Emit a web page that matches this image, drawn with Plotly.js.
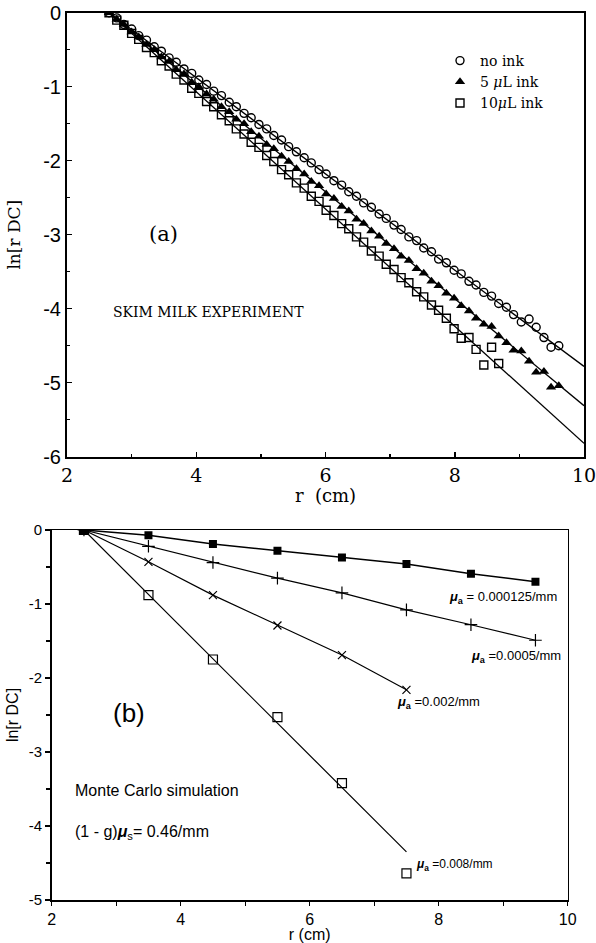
<!DOCTYPE html>
<html>
<head>
<meta charset="utf-8">
<script src="https://cdn.plot.ly/plotly-3.0.1.min.js"></script>
<style>html,body{margin:0;padding:0;background:#fff;}#chart{width:596px;height:943px;}</style>
</head>
<body>
<div id="chart"></div>
<script>
// ---------- (a) Skim milk experiment ----------
const rPos = [2.65,2.77,2.88,3.00,3.11,3.23,3.35,3.46,3.58,3.69,3.81,3.93,4.04,4.16,4.27,4.39,4.51,4.62,4.74,4.85,
  4.97,5.09,5.20,5.32,5.43,5.55,5.67,5.78,5.90,6.01,6.13,6.25,6.36,6.48,6.59,6.71,6.83,6.94,7.06,7.17,
  7.29,7.41,7.52,7.64,7.75,7.87,7.99,8.10,8.22,8.33,8.45,8.57,8.68,8.80,8.91,9.03,9.15,9.26,9.38,9.49,9.61];
const noInk = [0,-0.07,-0.16,-0.22,-0.31,-0.37,-0.46,-0.52,-0.61,-0.67,-0.76,-0.82,-0.91,-0.97,-1.06,-1.12,-1.21,-1.27,-1.36,-1.42,
  -1.51,-1.57,-1.66,-1.72,-1.81,-1.88,-1.96,-2.03,-2.12,-2.18,-2.27,-2.33,-2.42,-2.48,-2.57,-2.63,-2.72,-2.78,-2.87,-2.93,
  -3.03,-3.08,-3.18,-3.23,-3.33,-3.38,-3.48,-3.53,-3.63,-3.68,-3.78,-3.83,-3.93,-3.98,-4.08,-4.18,-4.14,-4.25,-4.39,-4.52,-4.50];
const ink5 = [0,-0.09,-0.16,-0.26,-0.33,-0.43,-0.50,-0.60,-0.66,-0.77,-0.83,-0.94,-1.00,-1.10,-1.17,-1.27,-1.34,-1.44,-1.50,-1.61,
  -1.67,-1.78,-1.84,-1.94,-2.01,-2.11,-2.18,-2.28,-2.34,-2.45,-2.51,-2.62,-2.68,-2.79,-2.85,-2.95,-3.02,-3.12,-3.19,-3.29,
  -3.35,-3.46,-3.52,-3.63,-3.69,-3.79,-3.86,-3.96,-4.03,-4.13,-4.21,-4.24,-4.37,-4.46,-4.56,-4.57,-4.71,-4.86,-4.85,-5.06,-5.04];
const ink10 = [0,-0.10,-0.17,-0.28,-0.36,-0.47,-0.54,-0.65,-0.72,-0.83,-0.91,-1.02,-1.09,-1.20,-1.27,-1.38,-1.46,-1.57,-1.64,-1.75,
  -1.82,-1.93,-2.01,-2.12,-2.19,-2.30,-2.37,-2.48,-2.55,-2.67,-2.74,-2.85,-2.92,-3.03,-3.10,-3.22,-3.29,-3.40,-3.47,-3.58,
  -3.65,-3.77,-3.84,-3.95,-4.02,-4.13,-4.27,-4.40,-4.39,-4.55,-4.76,-4.52,-4.74];
const fitR = [2.65, 10];
const noInkFit = [0, -4.78];
const ink5Fit = [0, -5.31];
const ink10Fit = [0, -5.82];
const seriesNamesA = ["no ink", "5 <i>μ</i>L ink", "10<i>μ</i>L ink"];

// ---------- (b) Monte Carlo simulation ----------
const mcR = [2.5,3.5,4.5,5.5,6.5,7.5,8.5,9.5];
const mua000125 = [0,-0.07,-0.19,-0.28,-0.37,-0.46,-0.59,-0.70];
const mua0005 = [0,-0.22,-0.44,-0.65,-0.85,-1.08,-1.28,-1.49];
const mua002 = [0,-0.43,-0.88,-1.29,-1.69,-2.16];
const mua008 = [0,-0.88,-1.75,-2.53,-3.42,-4.64];
const fit008R = [2.5, 7.5];
const fit008Y = [0, -4.35];

// tick labels
const xTickVals = [2,4,6,8,10];
const xTickText = ["2","4","6","8","10"];
const yTickValsA = [0,-1,-2,-3,-4,-5,-6];
const yTickTextA = ["0","-1","-2","-3","-4","-5","-6"];
const yTickValsB = [0,-1,-2,-3,-4,-5];
const yTickTextB = ["0","-1","-2","-3","-4","-5"];

const W = 596, H = 943;
const fx = p => p / W;
const fy = p => 1 - p / H;
const SERIF = "DejaVu Serif";
const SANS = "Liberation Sans, Arial, sans-serif";

const traces = [
  {x: fitR, y: noInkFit, mode: "lines", line: {color: "#000", width: 1.3}, showlegend: false, xaxis: "x", yaxis: "y"},
  {x: fitR, y: ink5Fit, mode: "lines", line: {color: "#000", width: 1.3}, showlegend: false, xaxis: "x", yaxis: "y"},
  {x: fitR, y: ink10Fit, mode: "lines", line: {color: "#000", width: 1.3}, showlegend: false, xaxis: "x", yaxis: "y"},
  {x: rPos, y: noInk, name: seriesNamesA[0], mode: "markers", xaxis: "x", yaxis: "y",
    marker: {symbol: "circle-open", size: 8, color: "#000", line: {width: 1.4, color: "#000"}}},
  {x: rPos, y: ink5, name: seriesNamesA[1], mode: "markers", xaxis: "x", yaxis: "y",
    marker: {symbol: "triangle-up", size: 9, color: "#000"}},
  {x: rPos.slice(0, ink10.length), y: ink10, name: seriesNamesA[2], mode: "markers", xaxis: "x", yaxis: "y",
    marker: {symbol: "square-open", size: 8, color: "#000", line: {width: 1.4, color: "#000"}}},

  {x: mcR, y: mua000125, mode: "lines+markers", showlegend: false, xaxis: "x2", yaxis: "y2",
    line: {color: "#000", width: 1.5}, marker: {symbol: "square", size: 8, color: "#000"}},
  {x: mcR, y: mua0005, mode: "lines+markers", showlegend: false, xaxis: "x2", yaxis: "y2",
    line: {color: "#000", width: 1.2}, marker: {symbol: "cross-thin-open", size: 9, color: "#000", line: {width: 1.2, color: "#000"}}},
  {x: mcR.slice(0, mua002.length), y: mua002, mode: "lines+markers", showlegend: false, xaxis: "x2", yaxis: "y2",
    line: {color: "#000", width: 1.2}, marker: {symbol: "x-thin-open", size: 8, color: "#000", line: {width: 1.2, color: "#000"}}},
  {x: fit008R, y: fit008Y, mode: "lines", showlegend: false, xaxis: "x2", yaxis: "y2",
    line: {color: "#000", width: 1.2}},
  {x: mcR.slice(0, mua008.length), y: mua008, mode: "markers", showlegend: false, xaxis: "x2", yaxis: "y2",
    marker: {symbol: "square-open", size: 9, color: "#000", line: {width: 1.2, color: "#000"}}}
];

const commonAxis = {showgrid: false, zeroline: false, showline: true, linecolor: "#000", mirror: true,
  tickcolor: "#000", automargin: false, ticklabeloverflow: "allow"};

const layout = {
  width: W, height: H,
  margin: {l: 0, r: 0, t: 0, b: 0},
  paper_bgcolor: "#fff", plot_bgcolor: "#fff",
  showlegend: true,
  legend: {x: fx(440), y: fy(45), xanchor: "left", yanchor: "top", bgcolor: "rgba(0,0,0,0)",
    font: {family: SERIF, size: 14, color: "#000"}, itemwidth: 30, tracegroupgap: 0},
  xaxis: Object.assign({}, commonAxis, {
    domain: [fx(67), fx(584)], range: [2, 10], anchor: "y", linewidth: 2,
    tickmode: "array", tickvals: xTickVals, ticktext: xTickText,
    ticks: "inside", ticklen: 5, tickwidth: 1.5,
    minor: {dtick: 1, tick0: 2, ticks: "inside", ticklen: 3, tickcolor: "#000"},
    tickfont: {family: SERIF, size: 19, color: "#000"},
    title: {text: "r  (cm)", font: {family: SERIF, size: 18, color: "#000"}, standoff: 0}
  }),
  yaxis: Object.assign({}, commonAxis, {
    domain: [fy(456.7), fy(12.7)], range: [-6, 0], anchor: "x", linewidth: 2,
    tickmode: "array", tickvals: yTickValsA, ticktext: yTickTextA,
    ticks: "inside", ticklen: 5, tickwidth: 1.5,
    minor: {dtick: 0.5, tick0: 0, ticks: "inside", ticklen: 3, tickcolor: "#000"},
    tickfont: {family: SANS, size: 20, color: "#000"},
    title: {text: "ln[r DC]", font: {family: SERIF, size: 17, color: "#000"}, standoff: 18}
  }),
  xaxis2: Object.assign({}, commonAxis, {
    domain: [fx(51.7), fx(567.7)], range: [2, 10], anchor: "y2", linewidth: 1.5,
    tickmode: "array", tickvals: xTickVals, ticktext: xTickText,
    ticks: "outside", ticklen: 4, tickwidth: 1.2,
    minor: {dtick: 1, tick0: 2, ticks: "outside", ticklen: 4, tickcolor: "#000"},
    tickfont: {family: SANS, size: 16, color: "#000"},
    title: {text: "r (cm)", font: {family: SANS, size: 16, color: "#000"}, standoff: 0}
  }),
  yaxis2: Object.assign({}, commonAxis, {
    domain: [fy(900), fy(530)], range: [-5, 0], anchor: "x2", linewidth: 1.5,
    tickmode: "array", tickvals: yTickValsB, ticktext: yTickTextB,
    ticks: "outside", ticklen: 5, tickwidth: 1.2,
    minor: {dtick: 0.5, tick0: 0, ticks: "outside", ticklen: 4, tickcolor: "#000"},
    tickfont: {family: SANS, size: 15, color: "#000"},
    title: {text: "ln[r DC]", font: {family: SANS, size: 16, color: "#000"}, standoff: 6}
  }),
  annotations: [
    {xref: "paper", yref: "paper", x: fx(163), y: fy(234), xanchor: "center", yanchor: "middle", showarrow: false,
      text: "(a)", font: {family: SERIF, size: 21, color: "#000"}},
    {xref: "paper", yref: "paper", x: fx(111), y: fy(312), xanchor: "left", yanchor: "middle", showarrow: false,
      text: "SKIM MILK EXPERIMENT", font: {family: SERIF, size: 14, color: "#000"}},
    {xref: "paper", yref: "paper", x: fx(129), y: fy(713), xanchor: "center", yanchor: "middle", showarrow: false,
      text: "(b)", font: {family: SANS, size: 26, color: "#000"}},
    {xref: "paper", yref: "paper", x: fx(73), y: fy(790), xanchor: "left", yanchor: "middle", showarrow: false,
      text: "Monte Carlo simulation", font: {family: SANS, size: 16, color: "#000"}},
    {xref: "paper", yref: "paper", x: fx(73), y: fy(832), xanchor: "left", yanchor: "middle", showarrow: false,
      text: "(1 - g)<b><i>μ</i></b><sub>s</sub>= 0.46/mm", font: {family: SANS, size: 16, color: "#000"}},
    {xref: "paper", yref: "paper", x: fx(447), y: fy(597), xanchor: "left", yanchor: "middle", showarrow: false,
      text: "<b><i>μ</i></b><sub><b>a</b></sub> = 0.000125/mm", font: {family: SANS, size: 13, color: "#000"}},
    {xref: "paper", yref: "paper", x: fx(469), y: fy(656), xanchor: "left", yanchor: "middle", showarrow: false,
      text: "<b><i>μ</i></b><sub><b>a</b></sub> =0.0005/mm", font: {family: SANS, size: 13, color: "#000"}},
    {xref: "paper", yref: "paper", x: fx(395), y: fy(702), xanchor: "left", yanchor: "middle", showarrow: false,
      text: "<b><i>μ</i></b><sub><b>a</b></sub> =0.002/mm", font: {family: SANS, size: 13, color: "#000"}},
    {xref: "paper", yref: "paper", x: fx(414), y: fy(865), xanchor: "left", yanchor: "middle", showarrow: false,
      text: "<b><i>μ</i></b><sub><b>a</b></sub> =0.008/mm", font: {family: SANS, size: 12, color: "#000"}}
  ]
};

Plotly.newPlot("chart", traces, layout, {staticPlot: true, displayModeBar: false});
</script>
</body>
</html>
